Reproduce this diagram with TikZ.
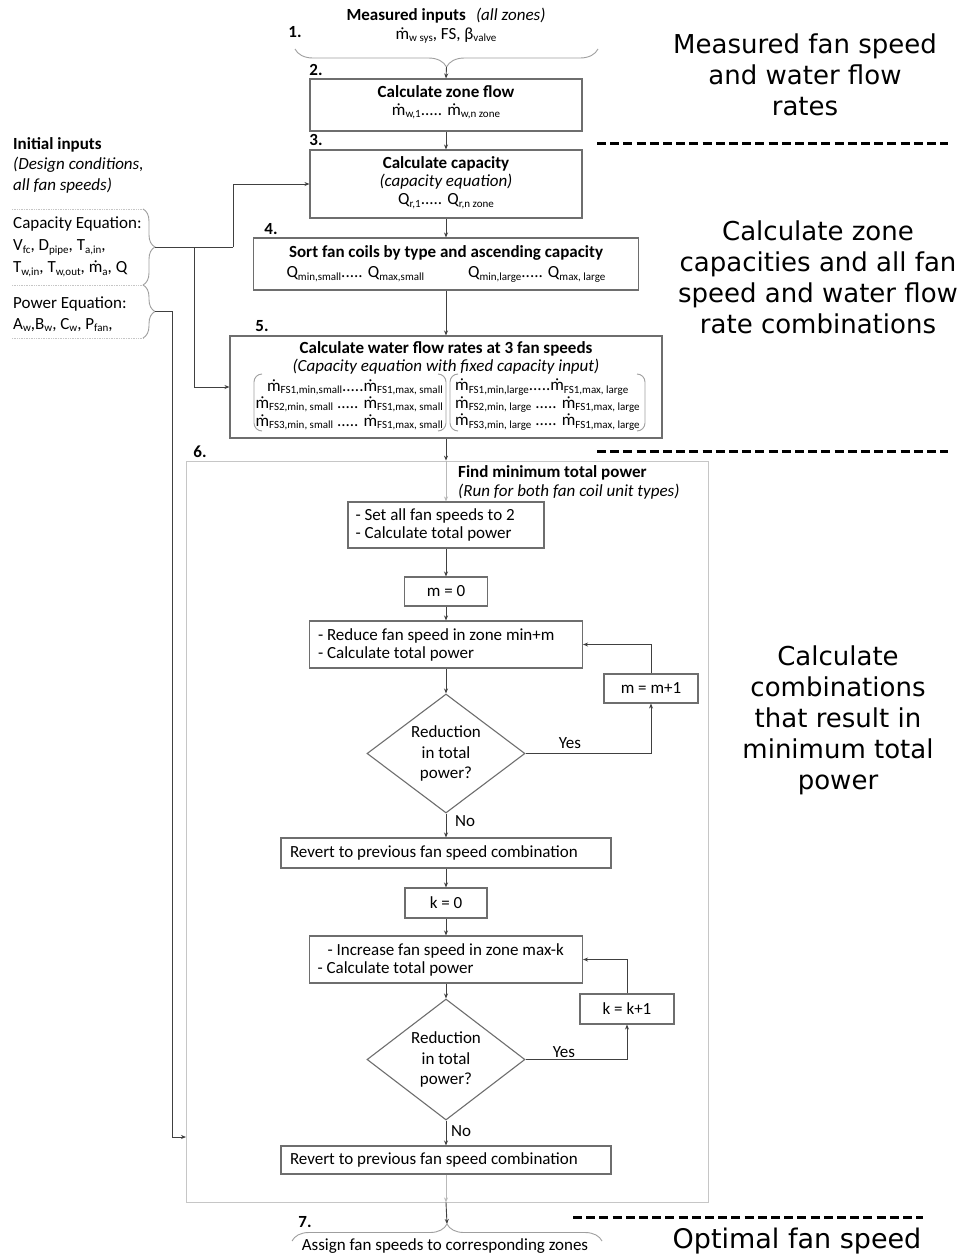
\documentclass[tikz,border=0pt]{standalone}
\usepackage{fontspec}
\setmainfont{Carlito}
\newfontfamily\vfont{DejaVu Sans}
\usetikzlibrary{arrows.meta,shapes.geometric,decorations.pathreplacing}
\newcommand\sbx[1]{\raisebox{-0.28ex}{\fontsize{11}{11}\selectfont #1}}
\newcommand\fsz{\fontsize{17}{18}\selectfont}
\newcommand\mdt{ṁ}
\newcommand\dn[1]{\rule[-#1pt]{0pt}{#1pt}}
\definecolor{linec}{HTML}{404040}
\definecolor{boxc}{HTML}{6E6E6E}
\begin{document}
\begin{tikzpicture}[x=1pt,y=-1pt,
  box/.style={draw=boxc, line width=1.1pt, inner sep=0pt, align=flush center, font=\fsz, text=black},
  lbox/.style={box, align=flush left},
  dia/.style={draw=boxc, line width=1.1pt, shape=diamond, aspect=1.3, inner sep=0pt, align=flush center, font=\fontsize{17}{20.5}\selectfont},
  arr/.style={draw=linec, line width=0.9pt, -{Stealth[length=5pt,width=4pt]}},
  arrg/.style={draw=gray!55, line width=0.8pt, -{Stealth[length=5pt,width=4pt]}},
  ln/.style={draw=linec, line width=0.9pt},
  brc/.style={draw=gray!75, line width=0.9pt, decorate},
  dotl/.style={draw=gray!45, line width=0.7pt, densely dotted},
  dsh/.style={draw=black, line width=3pt, dash pattern=on 9pt off 4.2pt},
  txt/.style={inner sep=0pt, font=\fsz, text=black},
  num/.style={inner sep=0pt, font=\fsz\bfseries, text=black},
  side/.style={inner sep=0pt, align=flush center, font=\vfont\fontsize{26}{31}\selectfont, text=black}
]
\fill[white] (0,0) rectangle (959,1256);
\useasboundingbox (0,0) rectangle (959,1256);

% ---------- top inputs ----------
\node[txt, align=flush center] (meas) at (446,26) {\textbf{Measured inputs}\hspace{0.6em}\textit{(all zones)}\\[1pt]\mdt\sbx{w sys}, FS, β\sbx{valve}};
\node[num] (n1) at (295,32) {1.};
\draw[brc, decoration={brace, mirror, amplitude=18pt}] (295,49) -- (598,49);
\coordinate (tip1) at (446.5,67);

% ---------- boxes 2-5 ----------
\node[num] (n2) at (316,70) {2.};
\node[box, minimum width=272pt, minimum height=52pt] (b2) at (446,105)
  {\textbf{Calculate zone flow}\\\mdt\sbx{w,1}..... \mdt\sbx{w,n zone}\dn{9}};
\node[num] (n3) at (316,140) {3.};
\node[box, minimum width=272pt, minimum height=68pt] (b3) at (446,184)
  {\textbf{Calculate capacity}\\\textit{(capacity equation)}\\Q\sbx{r,1}..... Q\sbx{r,n zone}\dn{6}};
\node[num] (n4) at (271,229) {4.};
\node[box, minimum width=385pt, minimum height=52pt] (b4) at (446,264)
  {\textbf{Sort fan coils by type and ascending capacity}\\[2pt]Q\sbx{min,small}..... Q\sbx{max,small}\hspace{44pt}Q\sbx{min,large}..... Q\sbx{max, large}};
\node[num] (n5) at (262,326) {5.};
\node[box, minimum width=432pt, minimum height=102pt] (b5) at (446,387) {};
\node[txt, align=flush center] (b5t) at (446,358)
  {\textbf{Calculate water flow rates at 3 fan speeds}\\\textit{(Capacity equation with fixed capacity input)}};
\node[txt, align=flush right, anchor=east, font=\fontsize{17}{17.5}\selectfont] (mL) at (443,404.5)
  {\mdt\sbx{FS1,min,small}.....\mdt\sbx{FS1,max, small}\\
   \mdt\sbx{FS2,min, small} ..... \mdt\sbx{FS1,max, small}\\
   \mdt\sbx{FS3,min, small} ..... \mdt\sbx{FS1,max, small}};
\node[txt, align=flush left, anchor=west, font=\fontsize{17}{17.5}\selectfont] (mR) at (455,404.5)
  {\mdt\sbx{FS1,min,large}.....\mdt\sbx{FS1,max, large}\\
   \mdt\sbx{FS2,min, large} ..... \mdt\sbx{FS1,max, large}\\
   \mdt\sbx{FS3,min, large} ..... \mdt\sbx{FS1,max, large}};
\draw[draw=gray!75, line width=0.9pt, rounded corners=8pt] (262,374) -- (254,374) -- (254,431) -- (262,431);
\draw[draw=gray!75, line width=0.9pt, rounded corners=8pt] (438,374) -- (446,374) -- (446,431) -- (438,431);
\draw[draw=gray!75, line width=0.9pt, rounded corners=8pt] (458,374) -- (450,374) -- (450,431) -- (458,431);
\draw[draw=gray!75, line width=0.9pt, rounded corners=8pt] (637,374) -- (645,374) -- (645,431) -- (637,431);

% ---------- box 6 ----------
\node[num] (n6) at (200,452) {6.};
\node[draw=gray!45, line width=0.8pt, minimum width=522pt, minimum height=741pt, inner sep=0pt] (b6) at (447,831.5) {};
\node[txt, align=flush left, anchor=north west, font=\fontsize{17}{19}\selectfont] (b6t) at (458,465.5)
  {\textbf{Find minimum total power}\\\textit{(Run for both fan coil unit types)}};

\node[lbox, minimum width=196pt, minimum height=46pt, text width=181pt] (set) at (446,525)
  {- Set all fan speeds to 2\\- Calculate total power};
\node[box, minimum width=83pt, minimum height=29pt] (m0) at (446,591.5) {m = 0};
\node[lbox, minimum width=273pt, minimum height=47pt, text width=256pt] (red) at (446,644.5)
  {- Reduce fan speed in zone min+m\\- Calculate total power};
\node[dia, minimum width=158pt, minimum height=119pt] (d1) at (446,753.5) {Reduction\\in total\\power?};
\node[box, minimum width=94pt, minimum height=29pt] (mp1) at (651,688.5) {m = m+1};
\node[lbox, minimum width=330pt, minimum height=30pt, text width=312pt] (rev1) at (446,853)
  {Revert to previous fan speed combination};
\node[box, minimum width=82pt, minimum height=30pt] (k0) at (446,903) {k = 0};
\node[lbox, minimum width=273pt, minimum height=47pt, text width=257pt] (inc) at (446,959.5)
  {\hspace{10pt}- Increase fan speed in zone max-k\\- Calculate total power};
\node[dia, minimum width=158pt, minimum height=121pt] (d2) at (446,1059.5) {Reduction\\in total\\power?};
\node[box, minimum width=94pt, minimum height=30pt] (kp1) at (627,1009) {k = k+1};
\node[lbox, minimum width=330pt, minimum height=28pt, text width=312pt] (rev2) at (446,1160)
  {Revert to previous fan speed combination};

\node[txt] (yes1) at (570,743) {Yes};
\node[txt] (no1) at (465,821) {No};
\node[txt] (yes2) at (564,1052) {Yes};
\node[txt] (no2) at (461,1131) {No};

% ---------- step 7 ----------
\node[num] (n7) at (305,1222) {7.};
\draw[brc, decoration={brace, amplitude=17pt}] (292,1241) -- (602,1241);
\coordinate (tip7) at (447,1224);
\node[txt] (assign) at (445,1246) {Assign fan speeds to corresponding zones};

% ---------- initial inputs ----------
\node[txt, align=flush left, anchor=north west, font=\fontsize{17}{20.5}\selectfont] (init) at (13,137)
  {\textbf{Initial inputs}\\\textit{(Design conditions,}\\\textit{all fan speeds)}};
\draw[dotl] (12,209) -- (143,209);
\draw[dotl] (12,285) -- (143,285);
\draw[dotl] (12,338) -- (143,338);
\node[txt, align=flush left, anchor=north west, font=\fontsize{17}{22}\selectfont] (capeq) at (13,217)
  {Capacity Equation:\\V\sbx{fc}, D\sbx{pipe}, T\sbx{a,in},\\T\sbx{w,in}, T\sbx{w,out}, \mdt\sbx{a}, Q};
\node[txt, align=flush left, anchor=north west, font=\fontsize{17}{20.5}\selectfont] (poweq) at (13,297)
  {Power Equation:\\A\sbx{w},B\sbx{w}, C\sbx{w}, P\sbx{fan},};
\draw[brc, decoration={brace, amplitude=12pt}] (143,209) -- (143,285);
\draw[brc, decoration={brace, amplitude=12pt}] (143,285) -- (143,338);
\coordinate (capTip) at (155,247);
\coordinate (powTip) at (155,311.5);
\coordinate (j1) at (233,247);
\coordinate (j2) at (194,247);
\coordinate (j3) at (172,311.5);
\coordinate (b6in) at (186,1137);

% ---------- connectors ----------
\draw[arr] (tip1) -- (b2.north);
\draw[arr] (b2.south) -- (b3.north);
\draw[arr] (b3.south) -- (b4.north);
\draw[arr] (b4.south) -- (b5.north);
\draw[arr] (b5.south) -- (b5.south |- b6.north);
\draw[arrg] (b5.south |- b6.north) -- (set.north);
\draw[arr] (set.south) -- (m0.north);
\draw[arr] (m0.south) -- (red.north);
\draw[arr] (red.south) -- (d1.north);
\draw[arr] (d1.east) -| (mp1.south);
\draw[arr] (mp1.north) |- (red.east);
\draw[arr] (d1.south) -- (rev1.north);
\draw[arr] (rev1.south) -- (k0.north);
\draw[arr] (k0.south) -- (inc.north);
\draw[arr] (inc.south) -- (d2.north);
\draw[arr] (d2.east) -| (kp1.south);
\draw[arr] (kp1.north) |- (inc.east);
\draw[arr] (d2.south) -- (rev2.north);
\draw[arrg] (rev2.south) -- (rev2.south |- b6.south);
\draw[arr] (rev2.south |- b6.south) -- (tip7);

\draw[ln] (capTip) -- (j1);
\draw[arr] (j1) |- (b3.west);
\draw[arr] (j2) |- (b5.west);
\draw[arr] (powTip) -- (j3) |- (b6in);

% ---------- right side ----------
\node[side, anchor=north] (rt1) at (805,34) {Measured fan speed\\and water flow\\rates};
\draw[dsh] (597,143) -- (948,143);
\node[side, anchor=north] (rt2) at (818,221) {Calculate zone\\capacities and all fan\\speed and water flow\\rate combinations};
\draw[dsh] (597,451) -- (948,451);
\node[side, anchor=north] (rt3) at (838,646) {Calculate\\combinations\\that result in\\minimum total\\power};
\draw[dsh] (573,1217) -- (923,1217);
\node[side, anchor=north, font=\vfont\fontsize{27}{31}\selectfont] (rt4) at (797,1228) {Optimal fan speed};
\end{tikzpicture}
\end{document}
